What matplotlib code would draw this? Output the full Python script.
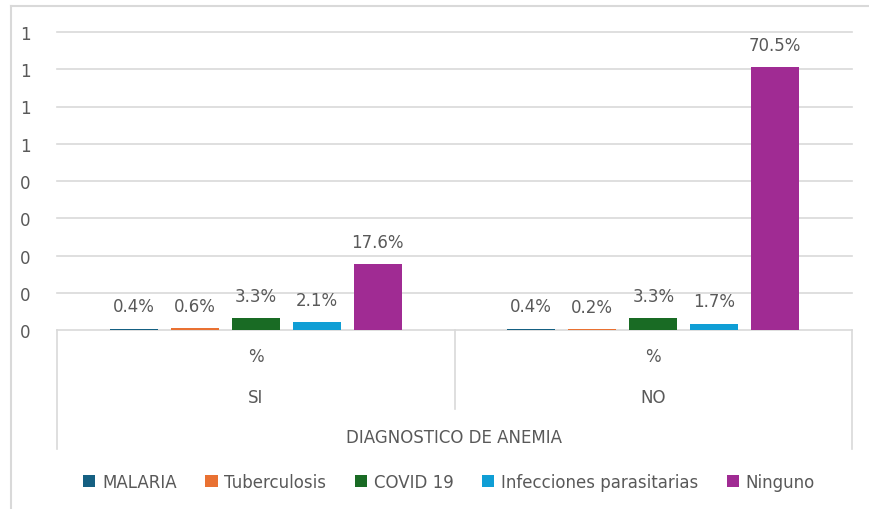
import matplotlib
matplotlib.use('Agg')
import matplotlib.pyplot as plt
import numpy as np
from matplotlib.lines import Line2D
from matplotlib.transforms import blended_transform_factory

plt.rcParams['font.family'] = ['DejaVu Sans']

series = ['MALARIA', 'Tuberculosis', 'COVID 19', 'Infecciones parasitarias', 'Ninguno']
groups = ['SI', 'NO']
sub_label = '%'
axis_title = 'DIAGNOSTICO DE ANEMIA'
si_values = [0.004, 0.006, 0.033, 0.021, 0.176]
no_values = [0.004, 0.002, 0.033, 0.017, 0.705]
colors = ['#156082', '#E97132', '#196B24', '#0F9ED5', '#A02B93']
yticks = [0.0, 0.1, 0.2, 0.3, 0.4, 0.5, 0.6, 0.7, 0.8]

text_color = '#595959'
grid_color = '#D9D9D9'
fs = 12

fig = plt.figure(figsize=(8.7, 5.1), dpi=100)
W, H = 870, 510
ax = fig.add_axes([57 / W, 1 - 331 / H, (852 - 57) / W, (331 - 33) / H])

x = np.arange(len(groups)) + 0.5
step = 0.1535
width = 0.121
values = np.array([si_values, no_values])

for i, name in enumerate(series):
    pos = x + (i - 2) * step
    bars = ax.bar(pos, values[:, i], width, color=colors[i], label=name, zorder=3)
    for b, v in zip(bars, values[:, i]):
        ax.annotate(f'{v * 100:.1f}%', (b.get_x() + b.get_width() / 2, v),
                    xytext=(0, 9.5), textcoords='offset points',
                    ha='center', va='bottom', fontsize=fs, color=text_color)

ax.set_xlim(0, 2)
ax.set_ylim(0, 0.8)
ax.set_yticks(yticks)
ax.set_yticklabels([str(int(np.floor(t + 0.5 + 1e-9))) for t in yticks])
ax.tick_params(axis='y', length=0, pad=19, labelsize=fs, labelcolor=text_color)
ax.set_xticks([])
for s in ax.spines.values():
    s.set_visible(False)
ax.yaxis.grid(True, color=grid_color, linewidth=1.2, zorder=0)
for gl in ax.get_ygridlines():
    gl.set_clip_on(False)

# category box lines below the plot
tr = blended_transform_factory(ax.transData, ax.transAxes)
for xv, ybot in [(0, -0.40), (1, -0.265), (2, -0.40)]:
    ax.add_line(Line2D([xv, xv], [0, ybot], transform=tr, color=grid_color,
                       linewidth=1.2, clip_on=False))
for xv, g in zip(x, groups):
    ax.text(xv, -0.087, sub_label, transform=tr, ha='center', va='center',
            fontsize=fs, color=text_color)
    ax.text(xv, -0.225, g, transform=tr, ha='center', va='center',
            fontsize=fs, color=text_color)
ax.text(1, -0.359, axis_title, transform=tr, ha='center', va='center',
        fontsize=fs, color=text_color)

# outer chart frame
fig.add_artist(Line2D([11 / W, 11 / W], [0, 1 - 7 / H], color=grid_color, linewidth=1.5))
fig.add_artist(Line2D([11 / W, 1], [1 - 7 / H, 1 - 7 / H], color=grid_color, linewidth=1.5))

leg = fig.legend(loc='center', bbox_to_anchor=(449 / W, 1 - 483 / H), ncol=5,
                 frameon=False, fontsize=fs, handlelength=0.75, handleheight=0.75,
                 handletextpad=0.4, columnspacing=1.7)
for t in leg.get_texts():
    t.set_color(text_color)

fig.savefig('out.png', dpi=100)
